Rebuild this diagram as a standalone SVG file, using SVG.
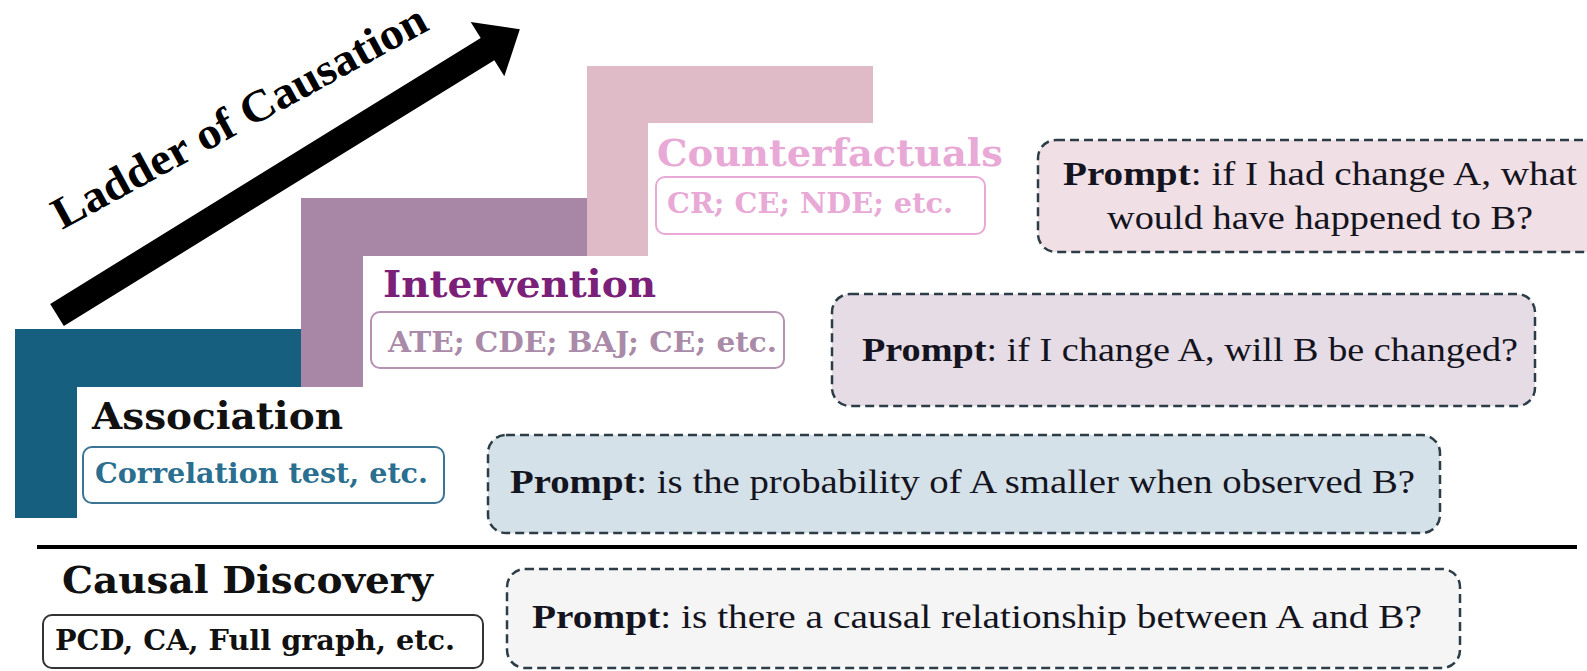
<svg xmlns="http://www.w3.org/2000/svg" width="1587" height="671" viewBox="0 0 1587 671">
<style>
  .lbl { font-family: "DejaVu Serif", "Liberation Serif", serif; font-weight: bold; }
  .box { font-family: "DejaVu Serif", "Liberation Serif", serif; font-weight: bold; }
  .ttl { font-family: "Liberation Serif", "DejaVu Serif", serif; font-weight: bold; }
  .pr { font-family: "Liberation Serif", "DejaVu Serif", serif; font-size: 34px; fill: #141420; }
  .pb { font-weight: bold; }
  .dash { stroke: #2c3d47; stroke-width: 2.5; stroke-dasharray: 9 5; }
  .lb { fill: #ffffff; stroke-width: 2; }
</style>
<rect width="1587" height="671" fill="#ffffff"/>

<g id="steps">
  <path d="M15,329 H301 V387 H77 V518 H15 Z" fill="#175f7f"/>
  <path d="M301,198 H587 V256 H363 V387 H301 Z" fill="#a886a6"/>
  <path d="M587,66 H873 V123 H648 V256 H587 Z" fill="#dfbac7"/>
</g>

<g id="arrow">
  <polygon transform="translate(57,315) rotate(-31.7)" points="0,-13 506,-13 506,-32 544,0 506,32 506,13 0,13" fill="#000000"/>
  <text class="ttl" transform="translate(62,230) rotate(-28.6)" x="0" y="0" font-size="45" textLength="420" lengthAdjust="spacingAndGlyphs" fill="#000000">Ladder of Causation</text>
</g>

<g id="counterfactuals">
  <text class="lbl" x="657" y="166" font-size="38" textLength="346" lengthAdjust="spacingAndGlyphs" fill="#e8a9d6">Counterfactuals</text>
  <rect class="lb" x="656" y="177" width="329" height="57" rx="9" stroke="#e8a9d6"/>
  <text class="box" x="667" y="213" font-size="27" textLength="286" lengthAdjust="spacingAndGlyphs" fill="#e8a9d6">CR; CE; NDE; etc.</text>
</g>

<g id="intervention">
  <text class="lbl" x="383" y="297" font-size="38" textLength="273" lengthAdjust="spacingAndGlyphs" fill="#7a2078">Intervention</text>
  <rect class="lb" x="371" y="312" width="413" height="56" rx="9" stroke="#b592b2"/>
  <text class="box" x="388" y="352" font-size="27" textLength="389" lengthAdjust="spacingAndGlyphs" fill="#a98aa8">ATE; CDE; BAJ; CE; etc.</text>
</g>

<g id="association">
  <text class="lbl" x="92" y="429" font-size="38" textLength="251" lengthAdjust="spacingAndGlyphs" fill="#111111">Association</text>
  <rect class="lb" x="83" y="447" width="361" height="56" rx="9" stroke="#3b7494"/>
  <text class="box" x="95" y="483" font-size="28" textLength="333" lengthAdjust="spacingAndGlyphs" fill="#2a6e90">Correlation test, etc.</text>
</g>

<g id="divider">
  <line x1="37" y1="547" x2="1577" y2="547" stroke="#000000" stroke-width="4"/>
</g>

<g id="causal-discovery">
  <text class="lbl" x="62" y="593" font-size="38" textLength="371" lengthAdjust="spacingAndGlyphs" fill="#111111">Causal Discovery</text>
  <rect class="lb" x="43" y="615" width="440" height="53" rx="9" stroke="#333333"/>
  <text class="box" x="55" y="650" font-size="28" textLength="400" lengthAdjust="spacingAndGlyphs" fill="#111111">PCD, CA, Full graph, etc.</text>
</g>

<g id="prompt-counterfactual">
  <rect class="dash" x="1038" y="140" width="570" height="112" rx="18" fill="#f0dfe4"/>
  <text class="pr" x="1063" y="185" textLength="514" lengthAdjust="spacingAndGlyphs"><tspan class="pb">Prompt</tspan>: if I had change A, what</text>
  <text class="pr" x="1107" y="229" textLength="426" lengthAdjust="spacingAndGlyphs">would have happened to B?</text>
</g>

<g id="prompt-intervention">
  <rect class="dash" x="832" y="294" width="703" height="112" rx="18" fill="#e6dce5"/>
  <text class="pr" x="862" y="361" textLength="656" lengthAdjust="spacingAndGlyphs"><tspan class="pb">Prompt</tspan>: if I change A, will B be changed?</text>
</g>

<g id="prompt-association">
  <rect class="dash" x="488" y="435" width="952" height="98" rx="18" fill="#d4e1e8"/>
  <text class="pr" x="510" y="493" textLength="905" lengthAdjust="spacingAndGlyphs"><tspan class="pb">Prompt</tspan>: is the probability of A smaller when observed B?</text>
</g>

<g id="prompt-discovery">
  <rect class="dash" x="507" y="569" width="953" height="99" rx="18" fill="#f5f5f5"/>
  <text class="pr" x="532" y="628" textLength="890" lengthAdjust="spacingAndGlyphs"><tspan class="pb">Prompt</tspan>: is there a causal relationship between A and B?</text>
</g>
</svg>
